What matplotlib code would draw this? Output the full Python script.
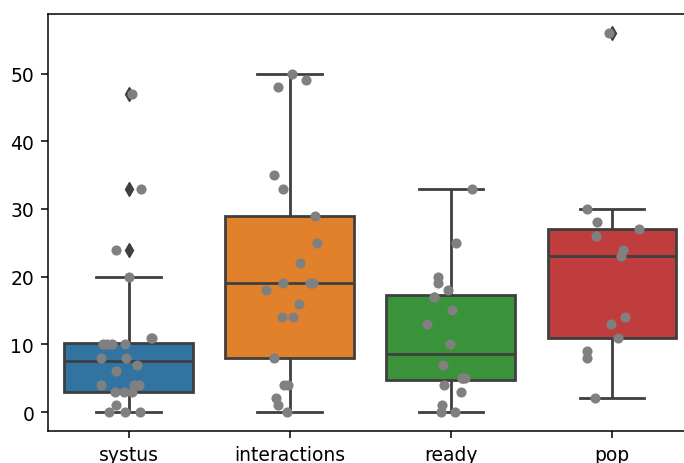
import numpy as np
import pandas as pd
import matplotlib
matplotlib.use("Agg")
import matplotlib.pyplot as plt
import seaborn as sns

categories = ["systus", "interactions", "ready", "pop"]
systus = [47, 33, 24, 20, 11, 11, 10, 10, 10, 10, 8, 8, 7, 6, 4, 4, 4, 3, 3, 3, 1, 0, 0, 0]
interactions = [50, 49, 48, 35, 33, 29, 25, 22, 19, 19, 19, 18, 16, 14, 14, 8, 4, 4, 2, 1, 0]
ready = [33, 25, 20, 19, 18, 17, 17, 15, 13, 10, 7, 5, 5, 5, 5, 4, 3, 1, 0, 0]
pop = [56, 30, 28, 27, 26, 24, 23, 14, 13, 11, 9, 8, 2]
box_colors = ["#3274a1", "#e1812c", "#3a923a", "#c03d3e"]

df = pd.DataFrame({
    "cat": sum([[c] * len(v) for c, v in zip(categories, [systus, interactions, ready, pop])], []),
    "val": systus + interactions + ready + pop,
})

fs = 13.5
line_c = "#3f3f3f"

fig = plt.figure(figsize=(6.84, 4.64), dpi=100)
ax = fig.add_axes([0.0702, 0.069, 0.9423, 0.8987])

sns.boxplot(data=df, x="cat", y="val", hue="cat", palette=box_colors, saturation=1,
            order=categories, hue_order=categories, legend=False, ax=ax,
            linecolor=line_c, linewidth=2.0, width=0.8,
            flierprops=dict(marker="d", markerfacecolor=line_c, markeredgecolor=line_c,
                            markersize=7.5))
np.random.seed(3)
sns.stripplot(data=df, x="cat", y="val", order=categories, color="grey",
              size=7.3, jitter=0.18, ax=ax)

ax.set_xlabel("")
ax.set_ylabel("")
ax.set_xlim(-0.5, 3.5)
ax.set_ylim(-2.8, 58.8)
ax.set_yticks([0, 10, 20, 30, 40, 50])
ax.tick_params(labelsize=fs, length=5, width=1.1, pad=5)
for s in ax.spines.values():
    s.set_linewidth(1.1)

fig.savefig("out.png", dpi=100)
